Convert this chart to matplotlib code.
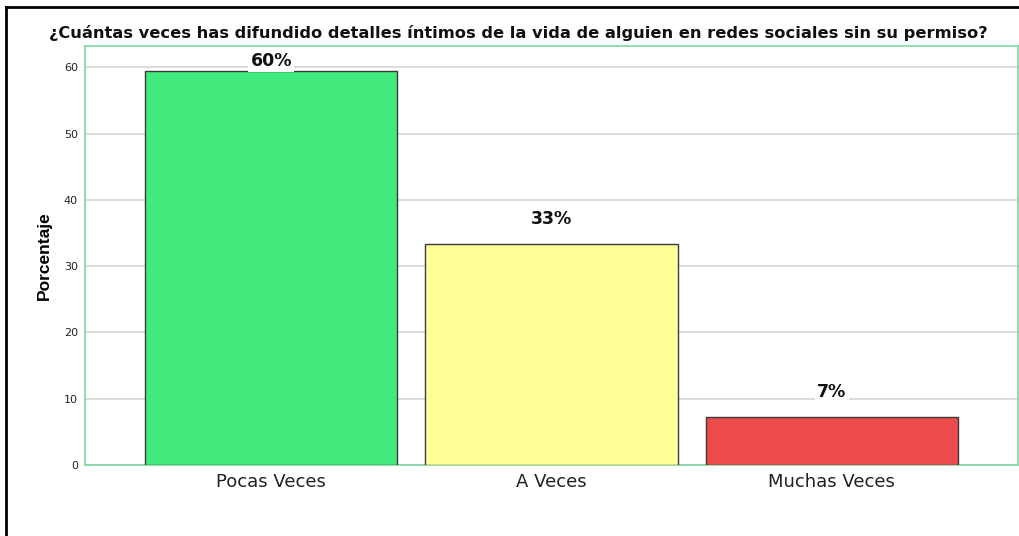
import matplotlib
matplotlib.use('Agg')
import matplotlib.pyplot as plt
from matplotlib.lines import Line2D
import numpy as np

categorias = ['Pocas Veces', 'A Veces', 'Muchas Veces']
porcentajes = [59.5, 33.3, 7.2]
etiquetas = ['60%', '33%', '7%']
colores = ['#42EA7E', '#FFFF99', '#EC4B4B']
titulo = '¿Cuántas veces has difundido detalles íntimos de la vida de alguien en redes sociales sin su permiso?'

plt.rcParams['font.family'] = ['DejaVu Sans']

fig = plt.figure(figsize=(10.19, 5.36), dpi=100)
ax = fig.add_axes([85/1019, 1 - 465/536, (1018 - 85)/1019, (465 - 46)/536])

x = np.arange(len(categorias))
ax.bar(x, porcentajes, width=0.9, color=colores, edgecolor='#3a3a3a', linewidth=1.0, zorder=3)

ax.set_xlim(-0.664, 2.664)
ax.set_ylim(0, 63.2)
ax.set_yticks([0, 10, 20, 30, 40, 50, 60])
ax.yaxis.grid(True, color='#d6d6d6', linewidth=1.2, zorder=0)
ax.set_axisbelow(True)
ax.tick_params(axis='y', length=0, labelsize=8, pad=5, labelcolor='#222222')
ax.tick_params(axis='x', length=0, labelsize=13, pad=6, labelcolor='#222222')
ax.set_xticks(x)
ax.set_xticklabels(categorias)
for s in ax.spines.values():
    s.set_color('#7fd6a2')
    s.set_linewidth(1.2)

ax.set_ylabel('Porcentaje', fontsize=12.5, fontweight='bold',
              family=['Liberation Sans Narrow', 'Liberation Sans', 'DejaVu Sans'])
ax.yaxis.set_label_coords((52 - 85) / 933, 0.5)

for xi, v, t in zip(x, porcentajes, etiquetas):
    ylab = min(v + 3.8, 60.9)
    ax.text(xi, ylab, t, ha='center', va='center', fontsize=12.5, fontweight='bold',
            color='#111111', zorder=5,
            bbox=dict(facecolor='white', edgecolor='none', pad=1.5))

fig.text(518/1019, 1 - 33/536, titulo, ha='center', va='center', fontsize=11.7, fontweight='bold', color='#111111')

# marco exterior (solo arriba e izquierda visibles)
fig.add_artist(Line2D([6/1019, 6/1019], [0, 1 - 7/536], transform=fig.transFigure, color='black', linewidth=2))
fig.add_artist(Line2D([6/1019, 1], [1 - 7/536, 1 - 7/536], transform=fig.transFigure, color='black', linewidth=2))

fig.savefig('out.png', dpi=100)
